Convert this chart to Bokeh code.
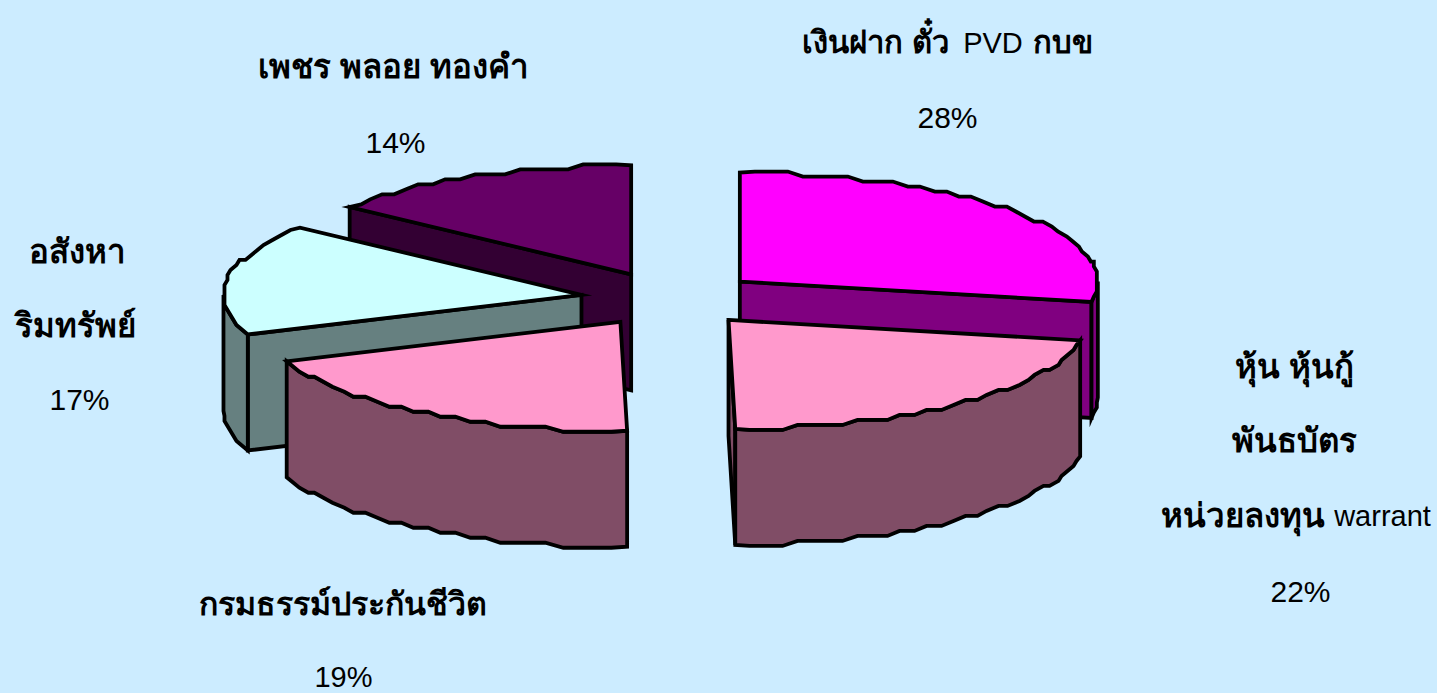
import numpy as np
from bokeh.plotting import figure
from bokeh.models import Range1d, ColumnDataSource
from bokeh.embed import file_html
from bokeh.resources import INLINE
from bokeh.core.properties import value

# --- data ---
categories = ["เงินฝาก ตั๋ว PVD กบข", "หุ้น หุ้นกู้ พันธบัตร หน่วยลงทุน warrant",
              "กรมธรรม์ประกันชีวิต", "อสังหาริมทรัพย์", "เพชร พลอย ทองคำ"]
shares = [28.0, 21.7, 19.4, 16.5, 14.4]
top_colors = ["#FF00FF", "#FF99CC", "#FF99CC", "#CCFFFF", "#660066"]
side_colors = ["#800080", "#804D66", "#804D66", "#668080", "#330033"]
label_runs = ["เงินฝาก ตั๋ว", "PVD", "กบข", "28%",
              "หุ้น หุ้นกู้", "พันธบัตร", "หน่วยลงทุน", "warrant", "22%",
              "กรมธรรม์ประกันชีวิต", "19%",
              "อสังหา", "ริมทรัพย์", "17%",
              "เพชร พลอย ทองคำ", "14%"]
label_x = [875, 992.5, 1062.5, 947, 1294, 1294, 1242.5, 1382, 1300, 342, 343, 77, 75, 79, 393, 395]
label_y = [42, 42, 42, 117, 366, 440, 515, 515, 591, 603, 676, 251, 325, 399, 66, 142]
label_px = [31, 29, 31, 30, 33, 33, 33, 29, 30, 32, 29, 33, 33, 30, 33, 30]
label_style = ["bold", "normal", "bold", "normal", "bold", "bold", "bold", "normal", "normal",
               "bold", "normal", "bold", "bold", "normal", "bold", "normal"]

# --- layout of the 3-D pie in page pixels ---
W, H = 1437, 693
CX, CY = 670.0, 298.5
RX, RY = 358.0, 109.0
DEPTH = 116.0
EXPLODE = 90.0
STEP_DEG, GX, GY = 2.5, 3.0, 5.0
paint_order = [4, 0, 3, 2, 1]

p = figure(width=W, height=H, output_backend="svg", toolbar_location=None,
           x_range=Range1d(0, W), y_range=Range1d(H, 0),
           x_axis_type=None, y_axis_type=None, min_border=0,
           background_fill_color="#CCECFF", border_fill_color="#CCECFF",
           outline_line_color=None)
p.grid.visible = False


def rim(ax, ay, a0, a1):
    n = max(2, int(abs(a1 - a0) / STEP_DEG) + 1)
    th = np.radians(np.linspace(a0, a1, n))
    dx = RX * np.sin(th)
    dy = -RY * np.cos(th)
    sx = np.round(dx / GX) * GX
    sy = np.round(dy / GY) * GY
    sx[0], sy[0], sx[-1], sy[-1] = dx[0], dy[0], dx[-1], dy[-1]
    return ax + sx, ay + sy


def draw(xs, ys, color):
    p.patch(list(xs), list(ys), fill_color=color, line_color="black",
            line_width=3.8, line_join="miter")


starts = np.concatenate([[0.0], np.cumsum(shares)[:-1]]) * 3.6
ends = np.cumsum(shares) * 3.6

for i in paint_order:
    a0, a1 = starts[i], ends[i]
    mid = np.radians((a0 + a1) / 2)
    ax = CX + EXPLODE * np.sin(mid)
    ay = CY - EXPLODE * RY / RX * np.cos(mid)
    for a, show in ((a0, 180 < a0 < 360), (a1, 0 < a1 < 180)):
        if show:
            rx = ax + RX * np.sin(np.radians(a))
            ry = ay - RY * np.cos(np.radians(a))
            draw([ax, rx, rx, ax], [ay, ry, ry + DEPTH, ay + DEPTH], side_colors[i])
    b0, b1 = max(a0, 90), min(a1, 270)
    if b1 > b0:
        wx, wy = rim(ax, ay, b0, b1)
        draw(np.concatenate([wx, wx[::-1]]), np.concatenate([wy, wy[::-1] + DEPTH]), side_colors[i])
    tx, ty = rim(ax, ay, a0, a1)
    draw(np.concatenate([[ax], tx]), np.concatenate([[ay], ty]), top_colors[i])

src = ColumnDataSource(dict(x=label_x, y=label_y, t=label_runs,
                            s=[f"{v}px" for v in label_px], w=label_style))
p.text("x", "y", text="t", source=src, text_align="center", text_baseline="middle",
       text_font=value("Liberation Sans"), text_font_size={"field": "s"},
       text_font_style={"field": "w"}, text_color="black")

html = file_html(p, INLINE)
html = html.replace("<head>", "<head><style>html,body{background:#CCECFF;margin:0;overflow:hidden;}</style>", 1)
open("out.html", "w").write(html)
